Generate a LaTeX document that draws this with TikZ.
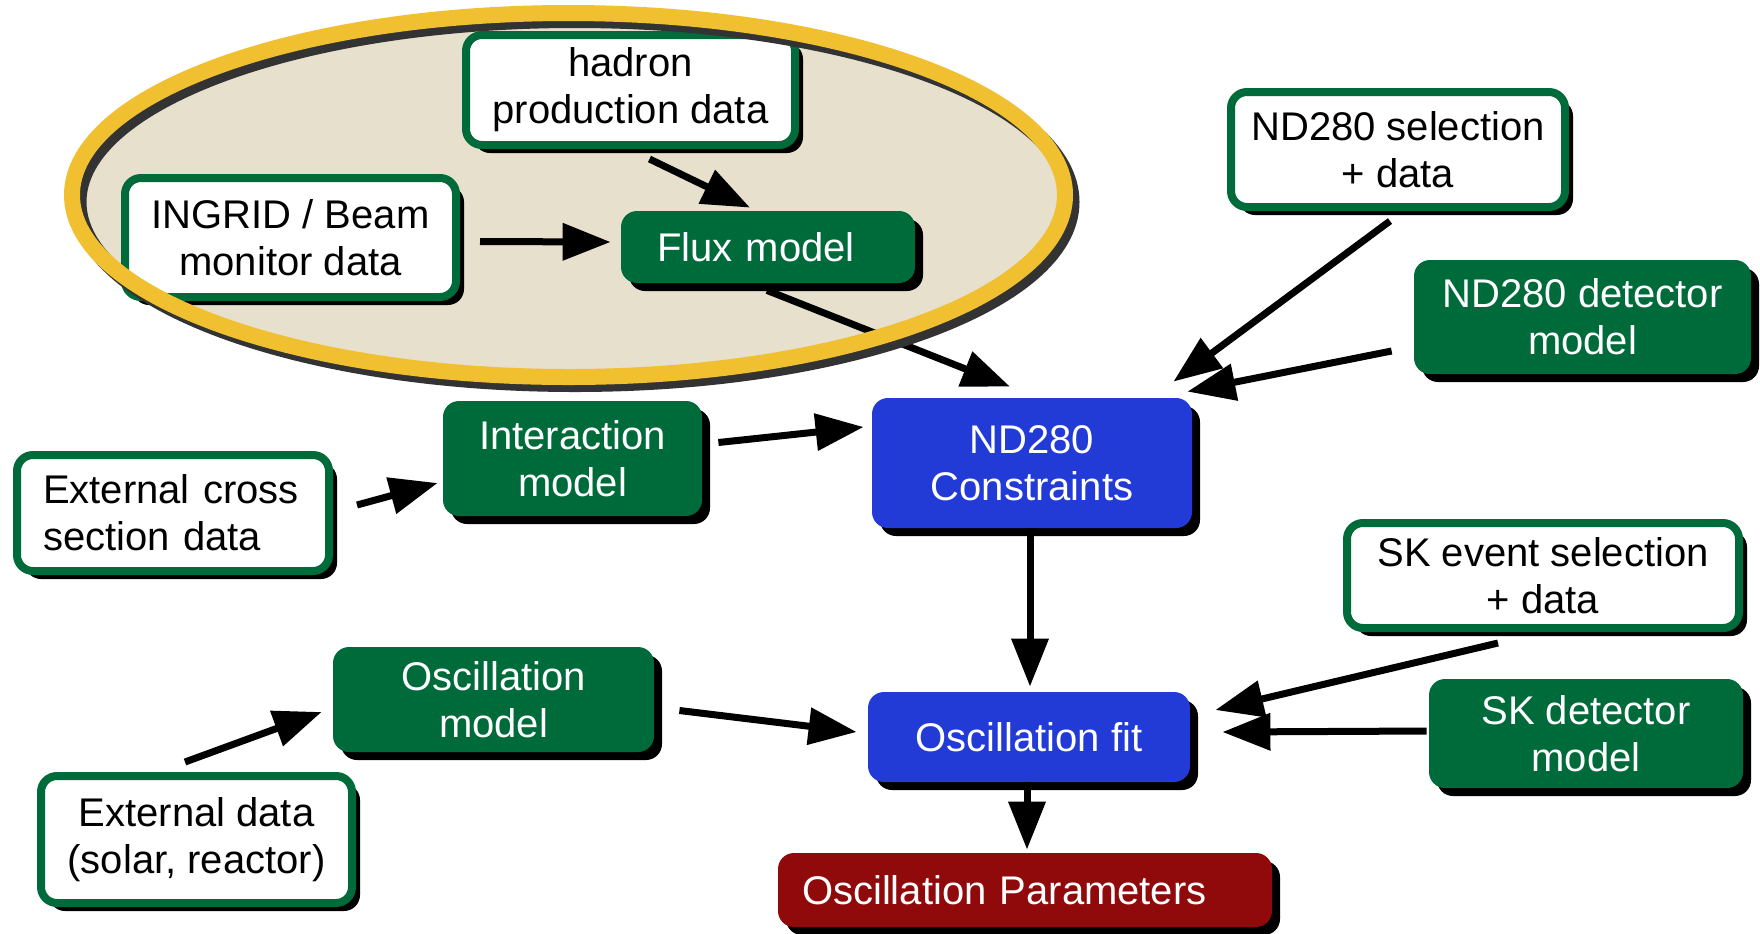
\documentclass[tikz,border=0pt]{standalone}
\usepackage{fontspec}
\setmainfont{Liberation Sans}
\usetikzlibrary{arrows.meta, shadows, calc}

\definecolor{boxgreen}{RGB}{0,107,58}
\definecolor{boxblue}{RGB}{34,58,214}
\definecolor{boxred}{RGB}{144,10,12}
\definecolor{ringyellow}{RGB}{240,192,48}
\definecolor{ringfill}{RGB}{230,224,205}
\definecolor{ringdark}{RGB}{51,51,51}

\tikzset{
  box/.style={rounded corners=8pt, align=center, inner sep=0pt,
    font=\fontsize{20}{23.5}\selectfont,
    drop shadow={shadow xshift=4pt, shadow yshift=-4pt, opacity=1, fill=black}},
  databox/.style={box, fill=white, draw=boxgreen, line width=4pt},
  modelbox/.style={box, fill=boxgreen, text=white},
  fitbox/.style={box, fill=boxblue, text=white},
  resultbox/.style={box, fill=boxred, text=white},
  flow/.style={line width=3.5pt, -{Triangle[length=24pt, width=18pt]}},
}

\begin{document}
\begin{tikzpicture}[x=0.5pt, y=-0.5pt]
\useasboundingbox (0,0) rectangle (1760,933);
\fill[ringfill] (568.5,195) ellipse [x radius=496.5, y radius=182];

\node[databox, minimum width=164.5pt, minimum height=55pt] (hadron) at (630.5,90) {hadron\\production data};
\node[databox, minimum width=165.5pt, minimum height=59.5pt] (ingrid) at (290.5,237.5) {INGRID / Beam\\monitor data};
\node[modelbox, minimum width=147pt, minimum height=36pt, text width=111pt, align=left] (flux) at (768,247) {Flux model};
\node[databox, minimum width=167pt, minimum height=57.5pt] (ndsel) at (1398,149.5) {ND280 selection\\+ data};
\node[modelbox, minimum width=168.5pt, minimum height=57pt] (nddet) at (1582.5,317) {ND280 detector\\model};
\node[modelbox, minimum width=129.5pt, minimum height=57.5pt] (inter) at (572.5,458.5) {Interaction\\model};
\node[databox, minimum width=156pt, minimum height=58pt, text width=130pt, align=left] (xsec) at (173,513) {External cross\\section data};
\node[fitbox, minimum width=160pt, minimum height=65pt] (ndcon) at (1032,463) {ND280\\Constraints};
\node[databox, minimum width=196pt, minimum height=52.5pt] (sksel) at (1543,575.5) {SK event selection\\+ data};
\node[modelbox, minimum width=157pt, minimum height=54.5pt] (skdet) at (1586,733.5) {SK detector\\model};
\node[modelbox, minimum width=160.5pt, minimum height=52.5pt] (oscmod) at (493.5,699.5) {Oscillation\\model};
\node[fitbox, minimum width=161pt, minimum height=45pt] (oscfit) at (1029,737) {Oscillation fit};
\node[databox, minimum width=155.5pt, minimum height=63.5pt] (extdata) at (196.5,839.5) {External data\\(solar, reactor)};
\node[resultbox, minimum width=247pt, minimum height=37pt, text width=223pt, align=left] (oscpar) at (1025,890) {Oscillation Parameters};

\draw[flow] ($(hadron.south)+(19,10)$) -- ($(flux.north)+(-18,-3)$);
\draw[flow] ($(ingrid.east)+(20,4)$) -- ($(flux.west)+(-10,-5)$);
\draw[flow] ($(flux.south)+(-1,7)$) -- ($(ndcon.north)+(-22,-11)$);
\draw[flow] ($(ndsel.south)+(-8,10)$) -- ($(ndcon.north east)+(-19,-16)$);
\draw[flow] ($(nddet.west)+(-22,34)$) -- ($(ndcon.north east)+(-5,-6)$);
\draw[flow] ($(inter.east)+(16,-16)$) -- ($(ndcon.west)+(-8,-36)$);
\draw[flow] ($(xsec.east)+(24,-8)$) -- ($(inter.west)+(-5,24.5)$);
\draw[flow] ($(ndcon.south)+(-2,0)$) -- ($(oscfit.north)+(1,-5)$);
\draw[flow] ($(sksel.south)+(-45,11)$) -- ($(oscfit.east)+(25,-27)$);
\draw[flow] ($(skdet.west)+(-2,-2.5)$) -- ($(oscfit.east)+(32,-5)$);
\draw[flow] ($(oscmod.east)+(25,11)$) -- ($(oscfit.west)+(-11,-5)$);
\draw[flow] ($(extdata.north)+(-11.5,-10)$) -- ($(oscmod.west)+(-11,12.5)$);
\draw[flow] ($(oscfit.south)+(-2,0)$) -- ($(oscpar.north)+(2,-3)$);

\draw[ringdark, line width=8pt] (575,202) ellipse [x radius=496.5, y radius=182];
\draw[ringyellow, line width=8pt] (568.5,195) ellipse [x radius=496.5, y radius=182];
\end{tikzpicture}
\end{document}
